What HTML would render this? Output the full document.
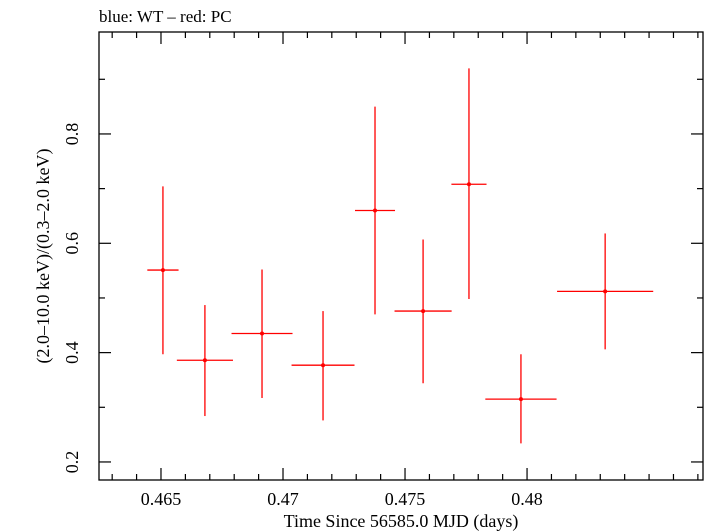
<!DOCTYPE html>
<html><head><meta charset="utf-8"><style>
body{margin:0;background:#fff;}
svg{display:block;font-family:"Liberation Serif",serif;}
</style></head><body>
<svg id="chart" width="705" height="532">
<text x="99" y="22" font-size="17">blue: WT – red: PC</text>
<rect x="99" y="32" width="604" height="448" fill="none" stroke="#000" stroke-width="1.3"/>
<g id="ticks"></g>
<g id="marks"></g>
<text x="401" y="527" font-size="18" text-anchor="middle">Time Since 56585.0 MJD (days)</text>
<text transform="translate(49,256) rotate(-90)" font-size="18" text-anchor="middle">(2.0–10.0 keV)/(0.3–2.0 keV)</text>
</svg>
<script>
const times=[0.46508,0.46680,0.46914,0.47164,0.47377,0.47574,0.47762,0.47975,0.48320];
const timeErr=[0.00064,0.00115,0.00125,0.00129,0.00082,0.00117,0.00072,0.00146,0.00197];
const ratios=[0.551,0.386,0.435,0.377,0.660,0.476,0.708,0.315,0.512];
const ratioHi=[0.704,0.487,0.552,0.476,0.850,0.607,0.920,0.397,0.618];
const ratioLo=[0.397,0.284,0.317,0.276,0.470,0.344,0.498,0.234,0.406];
const xTicks=[0.465,0.47,0.475,0.48];
const xTickLabels=["0.465","0.47","0.475","0.48"];
const yTicks=[0.2,0.4,0.6,0.8];
const yTickLabels=["0.2","0.4","0.6","0.8"];

const L=99,R=703,T=32,B=480;
const xMin=0.46246,xMax=0.48721,yMin=0.167,yMax=0.9865;
const sx=v=>L+(v-xMin)/(xMax-xMin)*(R-L);
const sy=v=>B-(v-yMin)/(yMax-yMin)*(B-T);
const NS="http://www.w3.org/2000/svg";
function mk(tag,attrs,parent){const e=document.createElementNS(NS,tag);for(const k in attrs)e.setAttribute(k,attrs[k]);parent.appendChild(e);return e;}
const tg=document.getElementById('ticks');
// x minor ticks
for(let v=0.463;v<=xMax;v+=0.001){
 const x=sx(v);const major=xTicks.some(t=>Math.abs(t-v)<1e-6);const len=major?12:6;
 const a=mk('line',{x1:x,x2:x,y1:B,y2:B-len,stroke:'#000','stroke-width':1.2},tg);
 
 
 const b=mk('line',{x1:x,x2:x,y1:T,y2:T+len,stroke:'#000','stroke-width':1.2},tg);
 
 
}
xTicks.forEach((v,i)=>{
 const t=mk('text',{x:sx(v),y:505,'font-size':18,'text-anchor':'middle'},tg);
 t.textContent=xTickLabels[i];
 
 
});
for(let v=0.2;v<=yMax;v+=0.1){
 const y=sy(v);const major=yTicks.some(t=>Math.abs(t-v)<1e-6);const len=major?12:6;
 const a=mk('line',{x1:L,x2:L+len,y1:y,y2:y,stroke:'#000','stroke-width':1.2},tg);
 
 
 const b=mk('line',{x1:R,x2:R-len,y1:y,y2:y,stroke:'#000','stroke-width':1.2},tg);
 
 
}
yTicks.forEach((v,i)=>{
 const t=mk('text',{transform:`translate(78,${sy(v)}) rotate(-90)`,'font-size':18,'text-anchor':'middle'},tg);
 t.textContent=yTickLabels[i];
 
 
});
const mg=document.getElementById('marks');
times.forEach((t,i)=>{
 const g=mk('g',{},mg);
 
 
 mk('line',{x1:sx(t-timeErr[i]),x2:sx(t+timeErr[i]),y1:sy(ratios[i]),y2:sy(ratios[i]),stroke:'#f00','stroke-width':1.3},g);
 mk('line',{x1:sx(t),x2:sx(t),y1:sy(ratioLo[i]),y2:sy(ratioHi[i]),stroke:'#f00','stroke-width':1.3},g);
 mk('circle',{cx:sx(t),cy:sy(ratios[i]),r:2,fill:'#f00'},g);
});
</script>
</body></html>
